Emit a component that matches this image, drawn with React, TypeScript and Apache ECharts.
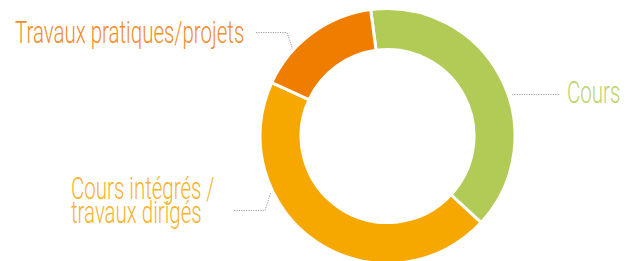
import React, { useEffect, useRef } from "react";
import * as echarts from "echarts";

const categories = ["Cours", "Cours intégrés /\ntravaux dirigés", "Travaux pratiques/projets"];
const values = [39, 45, 16];
const colors = ["#b1cb56", "#f6a800", "#ef7d00"];
const labelColors = ["#bcd36c", "#f7b22e", "#f18d2a"];

export default function App() {
  const ref = useRef<HTMLDivElement>(null);
  useEffect(() => {
    const chart = echarts.init(ref.current!, null, { renderer: "svg" });
    const font = "300 32px Roboto";
    const sx = 0.64;
    const lineStyle = { stroke: "#a0a0a0", lineWidth: 1, lineDash: [1.2, 1.2], fill: "none" };
    chart.setOption({
      animation: false,
      backgroundColor: "#ffffff",
      series: [
        {
          type: "pie",
          center: [387.5, 136],
          radius: [86.5, 127.5],
          startAngle: 97.6,
          clockwise: true,
          label: { show: false },
          labelLine: { show: false },
          itemStyle: { borderColor: "#ffffff", borderWidth: 3 },
          emphasis: { disabled: true },
          data: categories.map((c, i) => ({ name: c, value: values[i], itemStyle: { color: colors[i] } })),
        },
      ],
      graphic: [
        {
          type: "text",
          x: 15,
          y: 32,
          scaleX: sx,
          style: { text: categories[2], font, fill: labelColors[2], textAlign: "left", textVerticalAlign: "middle" },
        },
        {
          type: "text",
          x: 567,
          y: 92,
          scaleX: sx,
          style: { text: categories[0], font, fill: labelColors[0], textAlign: "left", textVerticalAlign: "middle" },
        },
        {
          type: "text",
          x: 71,
          y: 200,
          scaleX: sx,
          style: { text: categories[1], font, lineHeight: 24, fill: labelColors[1], textAlign: "left", textVerticalAlign: "middle" },
        },
        { type: "polyline", shape: { points: [[256, 32.5], [287, 32.5], [293, 50]] }, style: lineStyle },
        { type: "polyline", shape: { points: [[512, 94.5], [559, 94.5]] }, style: lineStyle },
        { type: "polyline", shape: { points: [[234, 210.5], [265, 210.5], [271, 192]] }, style: lineStyle },
      ],
    });
    return () => chart.dispose();
  }, []);
  return <div ref={ref} style={{ width: 632, height: 261, position: "absolute", left: 0, top: 0 }} />;
}
